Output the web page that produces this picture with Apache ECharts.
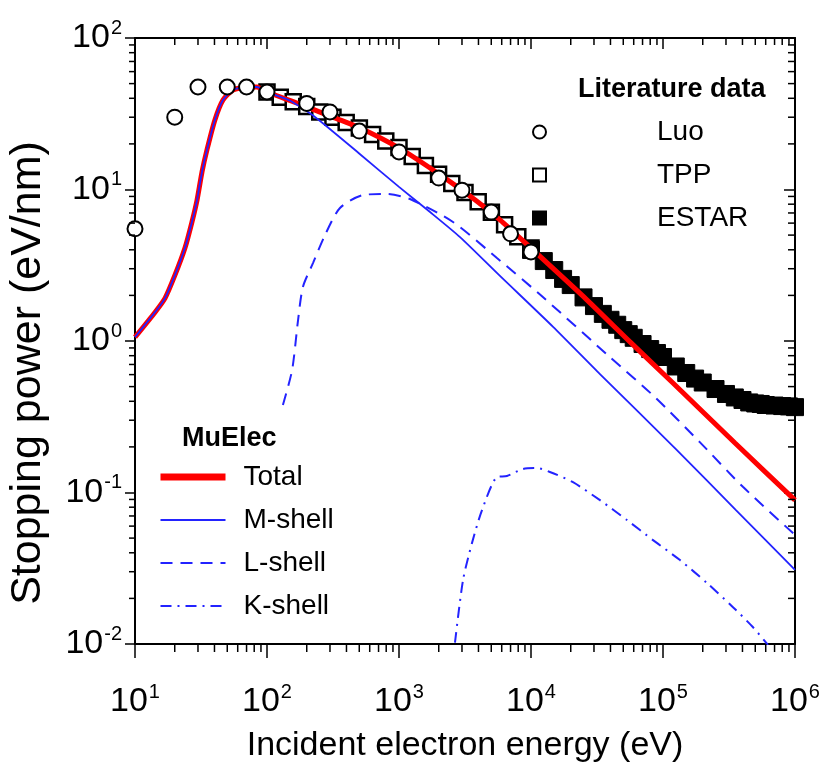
<!DOCTYPE html>
<html><head><meta charset="utf-8">
<script src="https://cdn.jsdelivr.net/npm/echarts@6/dist/echarts.min.js"></script>
<style>html,body{margin:0;padding:0;background:#fff}#c{width:823px;height:767px}</style>
</head><body><div id="c"></div>
<script>
// ---------- data ----------
const luoE = [10,20,30,50,70,100,200,300,500,1000,2000,3000,5000,7000,10000];
const luoS = [5.5,30,47.5,47.5,47.5,44,37,32.5,24.3,17.7,11.9,9.9,7.1,5.1,3.87];

const tppE = [100,126,158,200,251,316,398,501,631,794,1000,1259,1585,1995,2512,3162,3981,5012,6310,7943,10000];
const tppS = [44,40.6,37.9,35.3,32.5,30.0,27.7,25.5,23.1,20.9,18.9,16.5,14.4,12.6,10.96,9.55,8.3,7.07,5.86,4.87,4.11];

const estarE = [1e4,1.25e4,1.5e4,1.75e4,2e4,2.5e4,3e4,3.5e4,4e4,4.5e4,5e4,5.5e4,6e4,7e4,8e4,9e4,1e5,1.25e5,1.5e5,1.75e5,2e5,2.5e5,3e5,3.5e5,4e5,4.5e5,5e5,5.5e5,6e5,7e5,8e5,9e5,1e6];
const estarS = [3.99,3.37,2.94,2.57,2.34,1.94,1.70,1.51,1.38,1.28,1.18,1.11,1.05,0.955,0.885,0.833,0.784,0.679,0.615,0.565,0.532,0.482,0.447,0.424,0.408,0.393,0.387,0.384,0.378,0.375,0.372,0.370,0.366];

const totalE = [10,14.2,16.9,20.1,23.9,27,29.5,32.2,35.1,40.3,46.4,55.2,70.5,84,100,178,300,507,1000,2047,3450,5820,10000,26500,56000,119000,351000,1000000];
const totalS = [1.06,1.55,1.92,2.73,4.11,6.1,8.5,13.1,18.3,28.8,39,45.4,47.5,47.5,44,36.6,30.5,25.5,18.8,12.5,9.06,6.3,4.1,1.87,0.99,0.528,0.212,0.089];

const mE = [10,14.2,16.9,20.1,23.9,27,29.5,32.2,35.1,40.3,46.4,55.2,70.5,84,100,150,231,507,1000,1718,2900,5820,14700,33300,128000,357000,1000000];
const mS = [1.06,1.55,1.92,2.73,4.11,6.1,8.5,13.1,18.3,28.8,39,45.4,47.5,47.5,44,38.5,30.1,17.1,10.4,7.1,4.85,2.69,1.24,0.605,0.19,0.0766,0.0308];

const lE = [132,155,172,187,223,275,357,534,811,1211,2564,5520,12300,39600,86900,190000,403000,1000000];
const lS = [0.378,0.644,1.38,2.27,3.27,5.0,7.55,9.2,9.34,8.65,6.1,3.53,1.95,0.783,0.426,0.215,0.109,0.0525];

const kE = [2655,3055,3575,4255,5525,6575,8690,11100,13900,20800,33300,53300,84000,134500,215000,339000,481000,624000];
const kS = [0.0102,0.0264,0.0465,0.0766,0.1265,0.1285,0.143,0.145,0.1366,0.117,0.089,0.0658,0.0485,0.0358,0.0253,0.0175,0.0129,0.00985];

// axis ranges and minor-tick multipliers
const xRange = [10, 1e6];
const yRange = [0.01, 100];
const minorMult = [2,3,4,5,6,7,8,9];
const xDecades = [10,100,1000,10000,100000];
const yDecades = [0.01,0.1,1,10];

// ---------- build ----------
const FONT = "'Liberation Sans', Arial, sans-serif";
const zip = (a,b) => a.map((v,i)=>[v,b[i]]);
const xMinor = []; xDecades.forEach(d=>minorMult.forEach(m=>xMinor.push([m*d, 1])));
const yMinor = []; yDecades.forEach(d=>minorMult.forEach(m=>yMinor.push([100, m*d])));

const supLabel = v => {
  const e = Math.round(Math.log10(v));
  return '{b|10}{s|' + (e < 0 ? '-' + (-e) : e) + '}';
};
const richX = {
  b: {fontSize: 34, fontFamily: FONT, color: '#000', lineHeight: 40},
  s: {fontSize: 20, fontFamily: FONT, color: '#000', lineHeight: 22, verticalAlign: 'top', padding: [0,0,0,1]}
};
const blue = '#2323ff';
const hiddenDot = {color: 'rgba(0,0,0,0)', borderColor: 'rgba(0,0,0,0)', borderWidth: 0, opacity: 0};

const chart = echarts.init(document.getElementById('c'), null, {renderer: 'canvas'});
chart.setOption({
  animation: false,
  backgroundColor: '#fff',
  grid: {left: 135, right: 28, top: 38, bottom: 123, containLabel: false, outerBoundsMode: 'none'},
  title: [
    {text: 'Literature data', left: 573, top: 71, textStyle: {fontSize: 27, fontWeight: 'bold', fontFamily: FONT, color: '#000'}},
    {text: 'MuElec', left: 177, top: 420, textStyle: {fontSize: 27, fontWeight: 'bold', fontFamily: FONT, color: '#000'}}
  ],
  legend: [
    {data: ['Luo','TPP','ESTAR'], orient: 'vertical', left: 532, top: 117, padding: 0, itemWidth: 13, itemHeight: 13, itemGap: 13,
     selectedMode: false,
     textStyle: {fontSize: 28, fontFamily: FONT, color: '#000', lineHeight: 30, padding: [0,0,0,106]}},
    {data: [{name: 'Total', lineStyle: {width: 7}}, 'M-shell', 'L-shell', 'K-shell'],
     orient: 'vertical', left: 157, top: 462, padding: 0, itemWidth: 65, itemHeight: 14, itemGap: 13,
     selectedMode: false, itemStyle: hiddenDot,
     textStyle: {fontSize: 28, fontFamily: FONT, color: '#000', lineHeight: 30, padding: [0,0,0,13]}}
  ],
  xAxis: [
    {type: 'log', logBase: 10, min: xRange[0], max: xRange[1], position: 'bottom',
     name: 'Incident electron energy (eV)', nameLocation: 'middle', nameGap: 85, nameMoveOverlap: false,
     nameTextStyle: {fontSize: 34, fontFamily: FONT, color: '#000'},
     axisLine: {show: true, onZero: false, lineStyle: {color: '#000', width: 2}},
     axisTick: {show: true, inside: false, length: 14, lineStyle: {color: '#000', width: 1.5}},
     axisLabel: {margin: 38, formatter: supLabel, rich: richX},
     splitLine: {show: false}},
    {type: 'log', logBase: 10, min: xRange[0], max: xRange[1], position: 'top',
     axisLine: {show: true, onZero: false, lineStyle: {color: '#000', width: 2}},
     axisTick: {show: true, inside: true, length: 11, lineStyle: {color: '#000', width: 1.5}},
     axisLabel: {show: false}, splitLine: {show: false}}
  ],
  yAxis: [
    {type: 'log', logBase: 10, min: yRange[0], max: yRange[1], position: 'left',
     name: 'Stopping power (eV/nm)', nameLocation: 'middle', nameGap: 85, nameMoveOverlap: false,
     nameTextStyle: {fontSize: 43, fontFamily: FONT, color: '#000', padding: [0, 64, 0, 0]},
     axisLine: {show: true, onZero: false, lineStyle: {color: '#000', width: 2}},
     axisTick: {show: true, inside: false, length: 10, lineStyle: {color: '#000', width: 1.5}},
     axisLabel: {margin: 13, formatter: supLabel, rich: richX},
     splitLine: {show: false}},
    {type: 'log', logBase: 10, min: yRange[0], max: yRange[1], position: 'right',
     axisLine: {show: true, onZero: false, lineStyle: {color: '#000', width: 2}},
     axisTick: {show: true, inside: true, length: 11, lineStyle: {color: '#000', width: 1.5}},
     axisLabel: {show: false}, splitLine: {show: false}}
  ],
  series: [
    {name: 'TPP', type: 'scatter', data: zip(tppE, tppS), symbol: 'rect', symbolSize: 15, z: 2,
     itemStyle: {color: '#fff', borderColor: '#000', borderWidth: 2.5, opacity: 1}},
    {name: 'ESTAR', type: 'scatter', data: zip(estarE, estarS), symbol: 'rect', symbolSize: 17, z: 2,
     itemStyle: {color: '#000', borderColor: '#000', borderWidth: 1, opacity: 1}},
    {name: 'Total', type: 'line', data: zip(totalE, totalS), showSymbol: false, symbol: 'none', smooth: 0.2, z: 3,
     lineStyle: {color: '#ff0000', width: 5}, itemStyle: {color: '#ff0000'}},
    {name: 'M-shell', type: 'line', data: zip(mE, mS), showSymbol: false, symbol: 'none', smooth: 0.2, z: 4,
     lineStyle: {color: blue, width: 1.8}, itemStyle: {color: blue}},
    {name: 'L-shell', type: 'line', data: zip(lE, lS), showSymbol: false, symbol: 'none', smooth: 0.25, z: 4,
     lineStyle: {color: blue, width: 2, type: [12, 8]}, itemStyle: {color: blue}},
    {name: 'K-shell', type: 'line', data: zip(kE, kS), showSymbol: false, symbol: 'none', smooth: 0.25, z: 4,
     lineStyle: {color: blue, width: 2, type: [11, 6, 2, 6]}, itemStyle: {color: blue}},
    {name: 'Luo', type: 'scatter', data: zip(luoE, luoS), symbol: 'circle', symbolSize: 15, z: 5,
     itemStyle: {color: '#fff', borderColor: '#000', borderWidth: 2, opacity: 1}},
    {name: 'xMinor', type: 'custom', data: xMinor, clip: false, silent: true, z: 6,
     renderItem: (p, api) => {
       const v = api.value(0);
       const b = api.coord([v, yRange[0]]), t = api.coord([v, yRange[1]]);
       return {type: 'group', children: [
         {type: 'line', shape: {x1: b[0], y1: b[1], x2: b[0], y2: b[1] + 8}, style: {stroke: '#000', lineWidth: 1.5}},
         {type: 'line', shape: {x1: t[0], y1: t[1], x2: t[0], y2: t[1] + 7}, style: {stroke: '#000', lineWidth: 1.5}}
       ]};
     }},
    {name: 'yMinor', type: 'custom', data: yMinor, clip: false, silent: true, z: 6,
     renderItem: (p, api) => {
       const v = api.value(1);
       const l = api.coord([xRange[0], v]), r = api.coord([xRange[1], v]);
       return {type: 'group', children: [
         {type: 'line', shape: {x1: l[0] - 6, y1: l[1], x2: l[0], y2: l[1]}, style: {stroke: '#000', lineWidth: 1.5}},
         {type: 'line', shape: {x1: r[0] - 7, y1: r[1], x2: r[0], y2: r[1]}, style: {stroke: '#000', lineWidth: 1.5}}
       ]};
     }}
  ]
});
</script></body></html>
